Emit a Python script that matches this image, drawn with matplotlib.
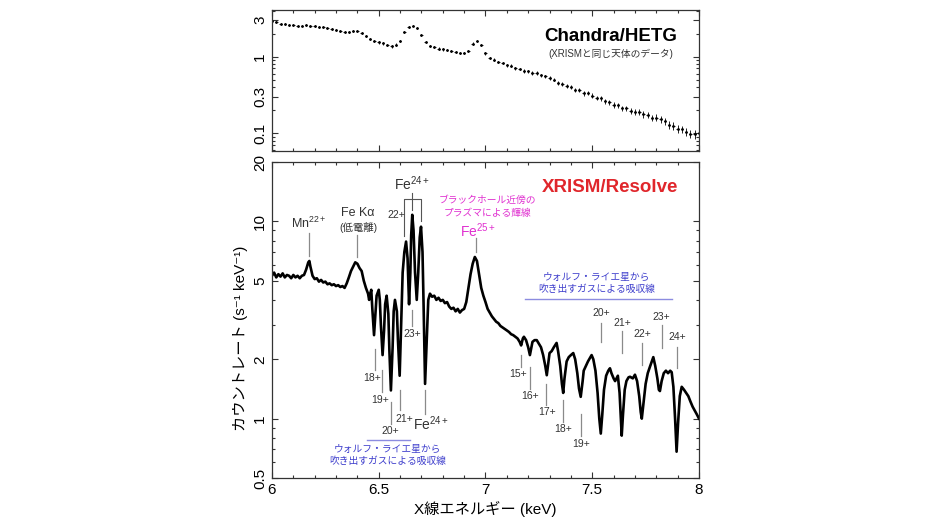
import numpy as np
import matplotlib.pyplot as plt
from matplotlib.ticker import MultipleLocator, LogLocator, NullFormatter

plt.rcParams['font.family'] = ['Liberation Sans', 'Noto Sans CJK JP', 'DejaVu Sans']
plt.rcParams['mathtext.fontset'] = 'custom'
plt.rcParams['mathtext.rm'] = 'Liberation Sans'
plt.rcParams['mathtext.it'] = 'Liberation Sans:italic'
plt.rcParams['mathtext.bf'] = 'Liberation Sans:bold'

# Chandra/HETG spectrum (keV, counts/s/keV)
chandra_E = [6.00, 6.02, 6.04, 6.06, 6.08, 6.10, 6.12, 6.14, 6.16, 6.18,
             6.20, 6.22, 6.24, 6.26, 6.28, 6.30, 6.32, 6.34, 6.36, 6.38,
             6.40, 6.42, 6.44, 6.46, 6.48, 6.50, 6.52, 6.54, 6.56, 6.58,
             6.60, 6.62, 6.64, 6.66, 6.68, 6.70, 6.72, 6.74, 6.76, 6.78,
             6.80, 6.82, 6.84, 6.86, 6.88, 6.90, 6.92, 6.94, 6.96, 6.98,
             7.00, 7.02, 7.04, 7.06, 7.08, 7.10, 7.12, 7.14, 7.16, 7.18,
             7.20, 7.22, 7.24, 7.26, 7.28, 7.30, 7.32, 7.34, 7.36, 7.38,
             7.40, 7.42, 7.44, 7.46, 7.48, 7.50, 7.52, 7.54, 7.56, 7.58,
             7.60, 7.62, 7.64, 7.66, 7.68, 7.70, 7.72, 7.74, 7.76, 7.78,
             7.80, 7.82, 7.84, 7.86, 7.88, 7.90, 7.92, 7.94, 7.96, 7.98,
             8.00]
chandra_rate = [2.88, 2.80, 2.70, 2.68, 2.58, 2.60, 2.52, 2.55, 2.58, 2.52,
                2.50, 2.43, 2.41, 2.34, 2.31, 2.24, 2.18, 2.12, 2.09, 2.14,
                2.17, 2.04, 1.86, 1.71, 1.60, 1.53, 1.49, 1.41, 1.36, 1.44,
                1.62, 2.08, 2.45, 2.55, 2.36, 1.94, 1.55, 1.37, 1.33, 1.27,
                1.25, 1.21, 1.19, 1.14, 1.12, 1.11, 1.19, 1.48, 1.60, 1.43,
                1.10, 0.96, 0.91, 0.85, 0.83, 0.77, 0.76, 0.70, 0.69, 0.65,
                0.64, 0.61, 0.61, 0.57, 0.55, 0.52, 0.50, 0.45, 0.44, 0.41,
                0.40, 0.37, 0.37, 0.33, 0.335, 0.31, 0.29, 0.285, 0.26, 0.255,
                0.235, 0.23, 0.21, 0.21, 0.195, 0.19, 0.188, 0.176, 0.172, 0.158,
                0.16, 0.152, 0.142, 0.128, 0.124, 0.114, 0.112, 0.103, 0.098, 0.097,
                0.101]
chandra_err = [0.08, 0.08, 0.08, 0.08, 0.07, 0.07, 0.07, 0.07, 0.07, 0.07,
               0.07, 0.07, 0.07, 0.07, 0.07, 0.06, 0.06, 0.06, 0.06, 0.06,
               0.06, 0.06, 0.06, 0.05, 0.05, 0.05, 0.05, 0.05, 0.05, 0.05,
               0.05, 0.06, 0.07, 0.07, 0.07, 0.06, 0.05, 0.05, 0.05, 0.05,
               0.05, 0.04, 0.04, 0.04, 0.04, 0.04, 0.04, 0.05, 0.05, 0.05,
               0.04, 0.04, 0.04, 0.03, 0.03, 0.03, 0.03, 0.03, 0.03, 0.03,
               0.03, 0.03, 0.03, 0.03, 0.03, 0.03, 0.025, 0.025, 0.025, 0.025,
               0.025, 0.022, 0.022, 0.022, 0.022, 0.02, 0.02, 0.02, 0.02, 0.02,
               0.02, 0.02, 0.018, 0.018, 0.018, 0.017, 0.017, 0.016, 0.016, 0.016,
               0.016, 0.016, 0.015, 0.014, 0.014, 0.013, 0.013, 0.012, 0.012, 0.012,
               0.012]

# XRISM/Resolve spectrum (keV, counts/s/keV)
resolve_E = [6.00, 6.01, 6.02, 6.03, 6.04, 6.05, 6.06, 6.07, 6.08, 6.09,
             6.10, 6.11, 6.12, 6.13, 6.14, 6.15, 6.16, 6.17, 6.175, 6.18,
             6.19, 6.20, 6.21, 6.22, 6.23, 6.24, 6.25, 6.26, 6.27, 6.28,
             6.29, 6.30, 6.31, 6.32, 6.33, 6.34, 6.35, 6.36, 6.37, 6.38,
             6.39, 6.40, 6.41, 6.42, 6.43, 6.44, 6.45, 6.455, 6.46, 6.465,
             6.47, 6.478, 6.485, 6.49, 6.50, 6.505, 6.51, 6.518, 6.525, 6.53,
             6.537, 6.545, 6.55, 6.557, 6.565, 6.57, 6.576, 6.585, 6.59, 6.598,
             6.605, 6.612, 6.62, 6.628, 6.635, 6.642, 6.648, 6.652, 6.657, 6.663,
             6.67, 6.678, 6.685, 6.692, 6.698, 6.705, 6.71, 6.717, 6.725, 6.732,
             6.74, 6.75, 6.76, 6.77, 6.78, 6.79, 6.80, 6.81, 6.82, 6.83,
             6.84, 6.85, 6.86, 6.87, 6.88, 6.89, 6.90, 6.91, 6.92, 6.93,
             6.94, 6.95, 6.96, 6.97, 6.98, 6.99, 7.00, 7.01, 7.02, 7.03,
             7.04, 7.05, 7.06, 7.07, 7.08, 7.09, 7.10, 7.11, 7.12, 7.13,
             7.14, 7.15, 7.16, 7.167, 7.175, 7.18, 7.19, 7.20, 7.208, 7.215,
             7.22, 7.23, 7.24, 7.25, 7.26, 7.27, 7.28, 7.287, 7.295, 7.30,
             7.31, 7.32, 7.333, 7.34, 7.35, 7.358, 7.364, 7.37, 7.38, 7.39,
             7.40, 7.411, 7.42, 7.43, 7.438, 7.446, 7.455, 7.46, 7.47, 7.48,
             7.497, 7.505, 7.515, 7.525, 7.533, 7.54, 7.547, 7.555, 7.565, 7.575,
             7.583, 7.59, 7.60, 7.607, 7.62, 7.628, 7.634, 7.638, 7.644, 7.652,
             7.66, 7.67, 7.677, 7.69, 7.70, 7.71, 7.72, 7.727, 7.732, 7.74,
             7.75, 7.76, 7.77, 7.786, 7.795, 7.805, 7.812, 7.817, 7.825, 7.835,
             7.845, 7.855, 7.865, 7.872, 7.88, 7.888, 7.895, 7.902, 7.91, 7.919,
             7.93, 7.94, 7.95, 7.96, 7.97, 7.98, 7.99, 8.00]
resolve_rate = [5.3, 5.5, 5.2, 5.4, 5.25, 5.45, 5.2, 5.35, 5.3, 5.15,
                5.35, 5.2, 5.3, 5.15, 5.3, 5.35, 5.7, 6.2, 6.3, 5.9,
                5.3, 5.1, 5.15, 4.95, 5.05, 4.9, 4.95, 4.8, 4.85, 4.75,
                4.8, 4.7, 4.75, 4.65, 4.7, 4.6, 4.85, 5.2, 5.6, 5.9,
                6.2, 6.1, 5.8, 5.6, 5.0, 4.6, 4.3, 4.0, 4.3, 4.5,
                3.6, 2.65, 3.5, 4.2, 4.5, 4.0, 3.0, 2.1, 2.8, 3.8,
                4.2, 3.4, 2.2, 1.39, 2.3, 3.5, 4.0, 3.5, 2.5, 1.65,
                3.0, 5.5, 7.0, 7.9, 6.5, 3.8, 5.5, 8.5, 10.8, 9.0,
                5.5, 4.0, 5.5, 8.3, 9.4, 7.0, 3.8, 1.5, 2.5, 4.0,
                4.3, 4.15, 4.2, 4.0, 4.1, 3.95, 4.0, 3.85, 3.9, 3.7,
                3.6, 3.65, 3.5, 3.6, 3.45, 3.55, 3.6, 3.9, 4.6, 5.4,
                6.1, 6.6, 6.3, 5.4, 4.6, 4.2, 3.9, 3.6, 3.45, 3.3,
                3.2, 3.1, 3.05, 2.95, 2.9, 2.85, 2.8, 2.75, 2.68, 2.65,
                2.6, 2.55, 2.45, 2.35, 2.55, 2.6, 2.5, 2.3, 2.1, 2.3,
                2.45, 2.5, 2.5, 2.4, 2.3, 2.1, 1.85, 1.66, 1.95, 2.15,
                2.2, 2.3, 2.42, 2.2, 1.85, 1.5, 1.35, 1.6, 1.95, 2.05,
                2.1, 2.15, 2.0, 1.7, 1.42, 1.29, 1.55, 1.75, 1.85, 1.95,
                2.1, 2.0, 1.75, 1.35, 1.0, 0.84, 1.05, 1.4, 1.65, 1.75,
                1.8, 1.7, 1.6, 1.55, 1.65, 1.35, 1.0, 0.82, 1.05, 1.4,
                1.55, 1.62, 1.63, 1.6, 1.67, 1.55, 1.3, 1.08, 1.0, 1.2,
                1.5, 1.7, 1.83, 2.05, 1.85, 1.6, 1.4, 1.38, 1.55, 1.7,
                1.75, 1.7, 1.75, 1.72, 1.45, 1.0, 0.68, 0.95, 1.3, 1.45,
                1.4, 1.35, 1.3, 1.22, 1.15, 1.1, 1.05, 1.0]

fig = plt.figure(figsize=(9.34, 5.25), dpi=100)
ax1 = fig.add_axes([0.2912, 0.713, 0.4572, 0.268])
ax2 = fig.add_axes([0.2912, 0.0895, 0.4572, 0.6019])

ax1.errorbar(chandra_E, chandra_rate, yerr=chandra_err, xerr=0.006, fmt='.',
             ms=2, color='k', elinewidth=0.6, capsize=0)
ax2.plot(resolve_E, resolve_rate, color='k', lw=1.9)

for ax in (ax1, ax2):
    ax.set_xlim(6, 8)
    ax.set_yscale('log')
    ax.xaxis.set_major_locator(MultipleLocator(0.5))
    ax.xaxis.set_minor_locator(MultipleLocator(0.1))
    ax.yaxis.set_minor_locator(LogLocator(subs=np.arange(2, 10)))
    ax.yaxis.set_minor_formatter(NullFormatter())
    ax.tick_params(which='both', direction='in', top=True, right=True,
                   color='#333333', width=0.8, labelsize=11)
    ax.tick_params(which='major', length=4.5)
    ax.tick_params(which='minor', length=2.5)
    for s in ax.spines.values():
        s.set_linewidth(0.9)
        s.set_color('#333333')

ax1.set_ylim(0.059, 4.07)
ax1.set_yticks([0.1, 0.3, 1, 3], ['0.1', '0.3', '1', '3'])
ax1.tick_params(labelbottom=False)
ax2.set_ylim(0.5, 20)
ax2.set_yticks([0.5, 1, 2, 5, 10, 20], ['0.5', '1', '2', '5', '10', '20'])
ax2.set_xticks([6, 6.5, 7, 7.5, 8], ['6', '6.5', '7', '7.5', '8'])
for ax in (ax1, ax2):
    for lbl in ax.get_yticklabels():
        lbl.set_rotation(90)
        lbl.set_va('center')

ax2.set_xlabel('X線エネルギー (keV)', fontsize=11, labelpad=3)
fig.text(240 / 934, 1 - 338 / 525, 'カウントレート (s⁻¹ keV⁻¹)',
         rotation=90, ha='center', va='center', fontsize=11)

# titles
ax1.text(7.588, 1.81, 'Chandra/HETG', fontsize=13.5, fontweight='bold',
         ha='center', va='center')
ax1.text(7.588, 1.09, '(XRISMと同じ天体のデータ)', fontsize=7, color='#333333',
         ha='center', va='center')
ax2.text(7.583, 14.8, 'XRISM/Resolve', fontsize=13.5, fontweight='bold',
         color='#e0262b', ha='center', va='center')

grey = '#8a8a8a'
dark = '#333333'

# emission line labels
ax2.text(6.173, 9.77, 'Mn$^{22+}$', fontsize=9, color=dark, ha='center', va='center')
ax2.plot([6.175, 6.175], [8.7, 6.7], color=grey, lw=0.9)
ax2.text(6.403, 11.0, 'Fe Kα', fontsize=9, color=dark, ha='center', va='center')
ax2.text(6.403, 9.35, '(低電離)', fontsize=7.5, color=dark, ha='center', va='center')
ax2.plot([6.40, 6.40], [8.5, 6.6], color=grey, lw=0.9)
ax2.text(6.657, 15.6, 'Fe$^{24+}$', fontsize=10, color=dark, ha='center', va='center')
ax2.plot([6.617, 6.617, 6.700, 6.700], [8.4, 13.0, 13.0, 10.1], color='#555555', lw=0.8)
ax2.plot([6.656, 6.656], [14.0, 11.4], color='#555555', lw=0.8)
ax2.text(6.58, 10.8, '22+', fontsize=7.5, color=dark, ha='center', va='center')
ax2.plot([6.654, 6.654], [3.55, 2.95], color=grey, lw=0.9)
ax2.text(6.656, 2.70, '23+', fontsize=7.5, color=dark, ha='center', va='center')

magenta = '#e030d0'
ax2.text(7.01, 11.9, 'ブラックホール近傍の\nプラズマによる輝線', fontsize=7, color=magenta,
         ha='center', va='center', linespacing=1.3)
ax2.text(6.965, 9.0, 'Fe$^{25+}$', fontsize=10, color=magenta, ha='center', va='center')
ax2.plot([6.955, 6.955], [8.2, 7.0], color=grey, lw=0.9)

# absorption line labels: (label, line energy, line top, line bottom, text energy, text value)
ion_marks = [('18+', 6.482, 2.25, 1.76, 6.467, 1.60),
             ('19+', 6.515, 1.76, 1.36, 6.507, 1.25),
             ('20+', 6.557, 1.21, 0.94, 6.553, 0.865),
             ('21+', 6.600, 1.39, 1.10, 6.618, 1.00),
             ('15+', 7.166, 2.10, 1.83, 7.154, 1.69),
             ('16+', 7.210, 1.83, 1.42, 7.208, 1.31),
             ('17+', 7.285, 1.50, 1.17, 7.287, 1.08),
             ('18+', 7.364, 1.24, 0.96, 7.364, 0.886),
             ('19+', 7.446, 1.06, 0.82, 7.450, 0.742),
             ('20+', 7.541, 3.06, 2.46, 7.544, 3.44),
             ('21+', 7.638, 2.77, 2.15, 7.641, 3.06),
             ('22+', 7.734, 2.42, 1.87, 7.736, 2.68),
             ('23+', 7.825, 3.00, 2.28, 7.825, 3.27),
             ('24+', 7.895, 2.32, 1.80, 7.896, 2.58)]
for lab, e, top, bot, te, tv in ion_marks:
    ax2.plot([e, e], [top, bot], color=grey, lw=0.9)
    ax2.text(te, tv, lab, fontsize=7.5, color=dark, ha='center', va='center')
ax2.plot([6.717, 6.717], [1.39, 1.06], color=grey, lw=0.9)
ax2.text(6.745, 0.94, 'Fe$^{24+}$', fontsize=10, color=dark, ha='center', va='center')

blue = '#3d3dcc'
blue_line = '#8c8ce0'
wr_text = 'ウォルフ・ライエ星から\n吹き出すガスによる吸収線'
ax2.text(7.52, 4.87, wr_text, fontsize=7, color=blue, ha='center', va='center', linespacing=1.25)
ax2.plot([7.185, 7.874], [4.03, 4.03], color=blue_line, lw=1)
ax2.text(6.541, 0.654, wr_text, fontsize=7, color=blue, ha='center', va='center', linespacing=1.25)
ax2.plot([6.443, 6.646], [0.78, 0.78], color=blue_line, lw=1)

plt.savefig('out.png', dpi=100)
